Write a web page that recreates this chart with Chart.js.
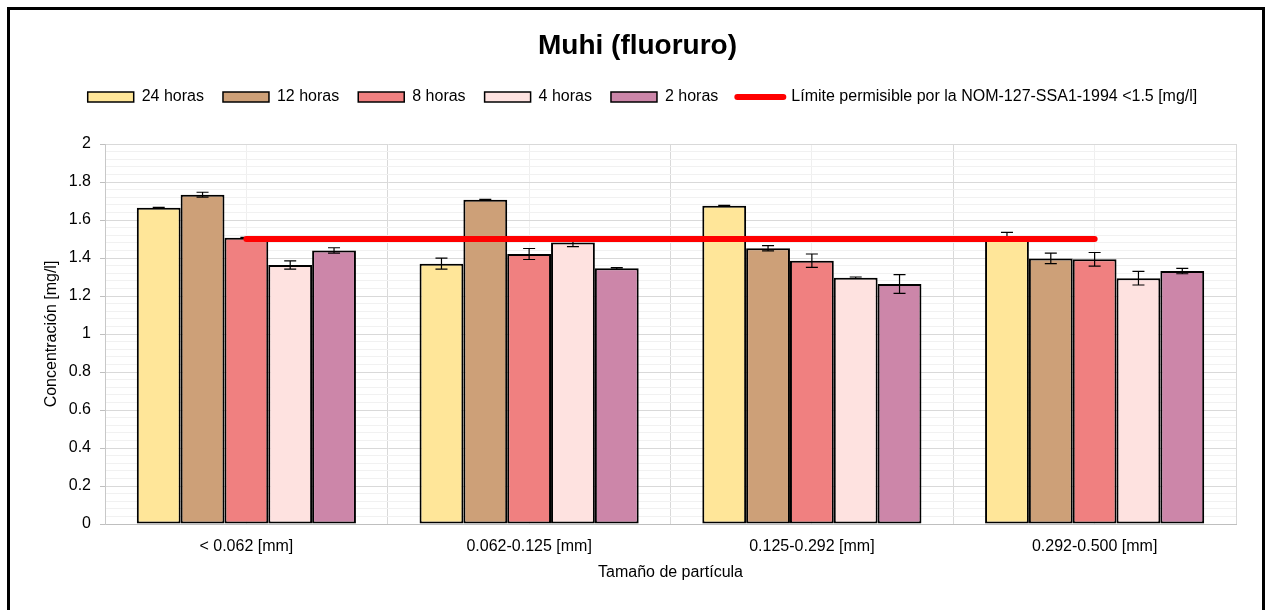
<!DOCTYPE html>
<html>
<head>
<meta charset="utf-8">
<script src="https://cdn.jsdelivr.net/npm/chart.js@4/dist/chart.umd.min.js"></script>
<style>
  html, body { margin: 0; padding: 0; background: #fff; }
  #wrap { position: relative; width: 1265px; height: 610px; overflow: hidden; }
  #frame { position: absolute; left: 7px; top: 7px; width: 1258px; height: 640px; box-sizing: border-box; border: 3px solid #000; pointer-events: none; }
  canvas { position: absolute; left: 0; top: 0; }
</style>
</head>
<body>
<div id="wrap">
  <canvas id="c" width="1265" height="610"></canvas>
  <div id="frame"></div>
</div>
<script>
const categories = ['< 0.062 [mm]', '0.062-0.125 [mm]', '0.125-0.292 [mm]', '0.292-0.500 [mm]'];
const seriesNames = ['24 horas', '12 horas', '8 horas', '4 horas', '2 horas'];
const h24 = [1.665, 1.370, 1.675, 1.513];
const h12 = [1.733, 1.706, 1.451, 1.398];
const h8  = [1.506, 1.421, 1.386, 1.393];
const h4  = [1.363, 1.482, 1.296, 1.294];
const h2  = [1.440, 1.346, 1.263, 1.331];
const err24 = [0.002, 0.029, 0.002, 0.022];
const err12 = [0.013, 0.003, 0.014, 0.028];
const err8  = [0.003, 0.029, 0.035, 0.036];
const err4  = [0.022, 0.022, 0.004, 0.036];
const err2  = [0.014, 0.004, 0.049, 0.014];
const limitName = 'Límite permisible por la NOM-127-SSA1-1994 <1.5 [mg/l]';
const limit = [1.5, 1.5, 1.5, 1.5];
const yTickLabels = ['0', '0.2', '0.4', '0.6', '0.8', '1', '1.2', '1.4', '1.6', '1.8', '2'];

const colors = ['#FFE699', '#CDA078', '#F08080', '#FEE2E0', '#CC86A9'];
const values = [h24, h12, h8, h4, h2];
const errors = [err24, err12, err8, err4, err2];
const FONT = "'Liberation Sans', Arial, sans-serif";
const RED = '#FF0000';
const FS = 16;

const isMajor = v => Math.round(v * 100) % 20 === 0;

const datasets = seriesNames.map((name, i) => ({
  type: 'bar',
  label: name,
  data: values[i],
  errorBars: errors[i],
  backgroundColor: colors[i],
  borderColor: '#000',
  borderWidth: 2,
  borderSkipped: false,
  categoryPercentage: 0.775,
  barPercentage: 1.0,
  order: 1
}));
datasets.push({
  type: 'line',
  label: limitName,
  data: limit,
  borderColor: RED,
  backgroundColor: RED,
  borderWidth: 6,
  borderCapStyle: 'round',
  pointRadius: 0,
  pointHoverRadius: 0,
  fill: false,
  order: 0
});

const errorBarPlugin = {
  id: 'errorBars',
  afterDatasetDraw(chart, args) {
    const ds = chart.data.datasets[args.index];
    if (!ds.errorBars) return;
    const y = chart.scales.y;
    const ctx = chart.ctx;
    ctx.save();
    ctx.strokeStyle = '#000';
    ctx.lineWidth = 1.2;
    args.meta.data.forEach((bar, j) => {
      const v = ds.data[j], e = ds.errorBars[j];
      const yt = y.getPixelForValue(v + e);
      const yb = y.getPixelForValue(v - e);
      const x = bar.x;
      const cap = 6;
      ctx.beginPath();
      ctx.moveTo(x, yt); ctx.lineTo(x, yb);
      ctx.moveTo(x - cap, yt); ctx.lineTo(x + cap, yt);
      ctx.moveTo(x - cap, yb); ctx.lineTo(x + cap, yb);
      ctx.stroke();
    });
    ctx.restore();
  }
};

const legendSpacer = {
  id: 'legendSpacer',
  beforeLayout(chart) {
    const lg = chart.legend;
    if (!lg || lg._spaced) return;
    const f = lg.fit;
    lg.fit = function () { f.call(this); this.height += 29; };
    lg._spaced = true;
  },
  afterLayout(chart) {
    const lg = chart.legend;
    if (lg) { lg.left += 10; }
  }
};

new Chart(document.getElementById('c'), {
  data: { labels: categories, datasets },
  options: {
    responsive: false,
    devicePixelRatio: 1,
    animation: false,
    layout: { padding: { left: 39, right: 29, top: 0, bottom: 20 } },
    plugins: {
      tooltip: { enabled: false },
      title: {
        display: true,
        text: 'Muhi (fluoruro)',
        color: '#000',
        font: { family: FONT, size: 28, weight: 'bold' },
        padding: { top: 29, bottom: 7.4 }
      },
      legend: {
        display: true,
        position: 'top',
        labels: {
          color: '#000',
          font: { family: FONT, size: FS },
          usePointStyle: true,
          pointStyleWidth: 46,
          boxHeight: 10,
          padding: 19,
          sort: (a, b) => a.datasetIndex - b.datasetIndex,
          generateLabels(chart) {
            const items = Chart.defaults.plugins.legend.labels.generateLabels(chart);
            items.forEach(it => {
              const ds = chart.data.datasets[it.datasetIndex];
              if (ds.type === 'line') {
                it.pointStyle = 'line';
                it.lineWidth = 6;
                it.strokeStyle = RED;
                it.lineCap = 'round';
              } else {
                it.pointStyle = 'rect';
                it.lineWidth = 1.5;
                it.strokeStyle = '#000';
                it.fillStyle = ds.backgroundColor;
              }
            });
            return items;
          }
        }
      }
    },
    scales: {
      x: {
        type: 'category',
        offset: true,
        grid: { offset: true, color: '#d9d9d9', drawTicks: false, lineWidth: 1 },
        border: { display: true, color: '#bfbfbf' },
        ticks: { color: '#000', font: { family: FONT, size: FS }, padding: 13 },
        title: {
          display: true, text: 'Tamaño de partícula', color: '#000',
          font: { family: FONT, size: FS }, padding: { top: 0, bottom: 7.6 }
        },
        afterFit(s) { s.height = 66; }
      },
      x2: {
        type: 'category',
        position: 'bottom',
        offset: true,
        grid: { offset: false, color: '#efefef', drawTicks: false },
        border: { display: false },
        ticks: { display: false }
      },
      y: {
        type: 'linear',
        min: 0,
        max: 2,
        grid: {
          color: c => (c.tick && isMajor(c.tick.value)) ? '#d9d9d9' : '#f1f1f1',
          tickColor: c => (c.tick && isMajor(c.tick.value)) ? '#bfbfbf' : 'rgba(0,0,0,0)',
          tickLength: 5,
          drawTicks: true
        },
        border: { display: true, color: '#c8c8c8' },
        ticks: {
          stepSize: 0.04,
          maxTicksLimit: 100,
          autoSkip: false,
          padding: 9,
          color: '#000',
          font: { family: FONT, size: FS },
          callback: v => isMajor(v) ? yTickLabels[Math.round(v * 5)] : ''
        },
        title: {
          display: true, text: 'Concentración [mg/l]', color: '#000',
          font: { family: FONT, size: FS }, padding: { top: 3.4, bottom: 0 }
        },
        afterFit(s) { s.width = 66; }
      }
    }
  },
  plugins: [errorBarPlugin, legendSpacer]
});
</script>
</body>
</html>
